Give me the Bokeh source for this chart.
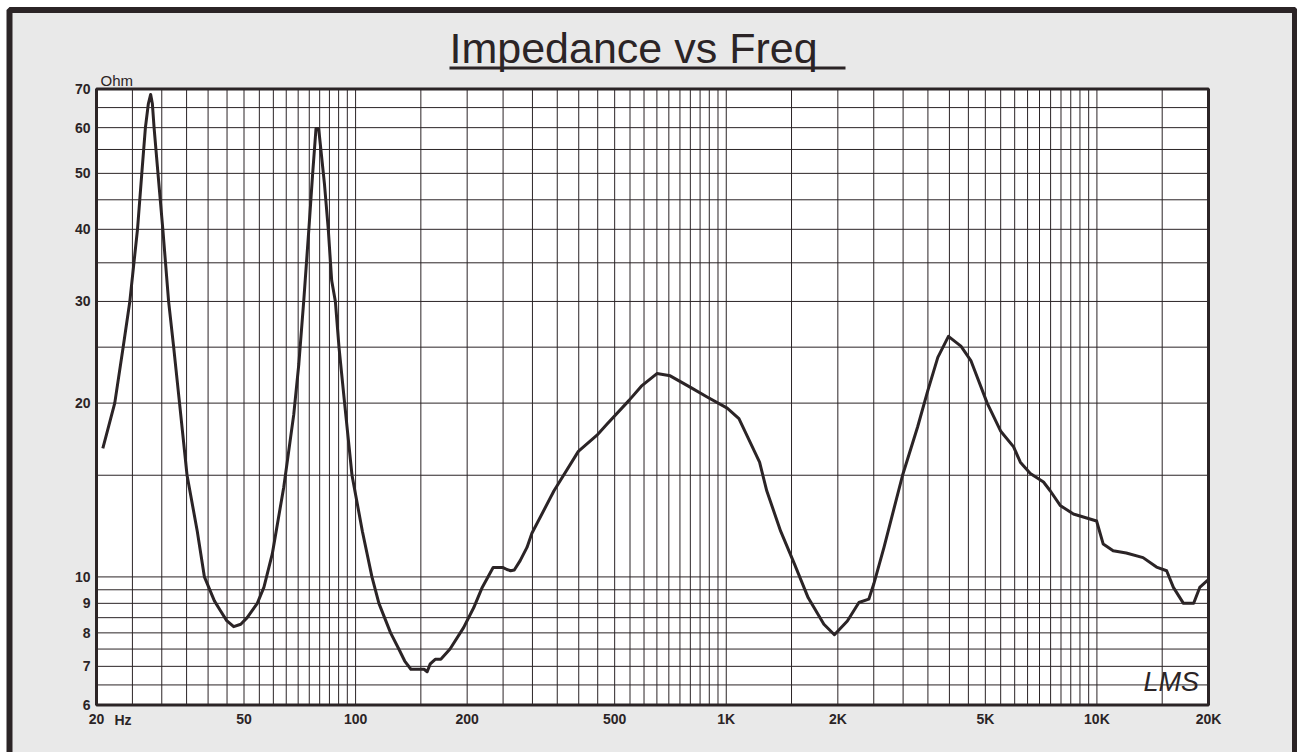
import math
from bokeh.plotting import figure
from bokeh.models import FixedTicker, Label, BoxAnnotation, Range1d
from bokeh.embed import file_html
from bokeh.resources import INLINE

# ---- data ----
freq_hz = [20.8, 21.6, 22.4, 23.6, 24.6, 25.8, 26.5, 27.1, 27.6, 28.0, 28.3, 28.6,
           29.3, 30.2, 31.3, 32.3, 33.5, 35.1, 37.4, 39.1, 41.6, 43.2, 44.9, 46.9,
           49.0, 51.0, 54.3, 56.6, 59.6, 64.0, 68.1, 70.3, 72.5, 74.8, 76.6, 78.2,
           79.5, 80.6, 82.4, 84.4, 86.2, 88.2, 90.2, 93.4, 97.8, 104.3, 110.7, 115.6,
           124.3, 130.8, 135.7, 141, 153, 156, 159, 164, 169.8, 179.8, 195.6, 208.4,
           219.6, 235, 250, 256, 262, 268, 278, 290, 299, 343, 399, 448, 477, 546,
           590, 650, 706, 801, 888, 1006, 1082, 1230, 1286, 1402, 1530, 1664, 1834,
           1958, 2122, 2280, 2424, 2500, 2664, 2990, 3284, 3496, 3722, 3976, 4296,
           4570, 5058, 5496, 5960, 6214, 6612, 7176, 7480, 7960, 8640, 9380, 9980,
           10400, 11060, 12000, 13320, 14480, 15420, 16080, 17120, 18240, 18940,
           19840, 20000]
impedance_ohm = [16.7, 18.3, 20.0, 25.0, 30.0, 40.0, 50.0, 60.0, 66.0, 68.5, 66.0, 60.0,
                 50.0, 40.0, 30.0, 25.0, 20.0, 15.0, 12.0, 10.0, 9.09, 8.74, 8.4, 8.2,
                 8.28, 8.5, 9.0, 9.6, 10.96, 14.3, 19.1, 23.4, 30.2, 40.0, 50.0, 59.8,
                 59.8, 55.0, 48.0, 40.0, 32.6, 30.0, 25.0, 20.0, 15.0, 12.0, 10.0, 9.0,
                 8.0, 7.5, 7.15, 6.92, 6.92, 6.85, 7.07, 7.2, 7.2, 7.5, 8.17, 8.85,
                 9.59, 10.38, 10.38, 10.3, 10.25, 10.28, 10.67, 11.25, 11.9, 14.1, 16.5,
                 17.6, 18.4, 20.2, 21.4, 22.5, 22.3, 21.3, 20.5, 19.6, 18.8, 15.8, 14.1,
                 12.0, 10.5, 9.2, 8.28, 7.94, 8.39, 9.03, 9.15, 9.72, 11.25, 15.0, 18.2,
                 21.0, 24.0, 26.1, 25.1, 23.7, 20.0, 17.9, 16.8, 15.8, 15.1, 14.6, 14.1,
                 13.3, 12.85, 12.65, 12.5, 11.4, 11.1, 11.0, 10.8, 10.4, 10.25, 9.59, 9.0,
                 9.0, 9.59, 9.85, 9.9]

x_tick_values = [20, 50, 100, 200, 500, 1000, 2000, 5000, 10000, 20000]
x_tick_labels = ["20", "50", "100", "200", "500", "1K", "2K", "5K", "10K", "20K"]
y_tick_values = [6, 7, 8, 9, 10, 20, 30, 40, 50, 60, 70]

x_grid_hz = ([f for f in range(25, 100, 5)] + [f for f in range(100, 1000, 50)]
             + [f for f in range(1000, 10000, 500)] + [10000, 15000])
y_grid_ohm = [6.5, 7, 7.5, 8, 8.5, 9, 9.5, 10, 15, 20, 25, 30, 35, 40, 45, 50, 55, 60, 65]

X_MIN, X_MAX = 20, 20000
Y_MIN, Y_MAX = 6, 70

INK = "#2b2426"
BG = "#e9e9e9"

# ---- layout: the frame covers the whole canvas, chart box placed inside ----
W, H = 1297, 752
CL, CR, CT, CB = 96, 1208, 88.5, 704.5          # chart box in canvas pixels
px_dec_x = (CR - CL) / math.log10(X_MAX / X_MIN)
px_dec_y = (CB - CT) / math.log10(Y_MAX / Y_MIN)
x0 = X_MIN / 10 ** (CL / px_dec_x)
x1 = X_MAX * 10 ** ((W - CR) / px_dec_x)
y0 = Y_MIN / 10 ** ((H - CB) / px_dec_y)
y1 = Y_MAX * 10 ** (CT / px_dec_y)

p = figure(width=W, height=H, x_axis_type="log", y_axis_type="log",
           x_range=Range1d(x0, x1), y_range=Range1d(y0, y1),
           output_backend="svg", toolbar_location=None, min_border=0,
           background_fill_color="white", border_fill_color="white",
           outline_line_color=None)
p.title.visible = False

# sheet (gray with dark border)
p.add_layout(BoxAnnotation(left=9, right=1294.5, top=H - 9.5, bottom=-20,
                           left_units="screen", right_units="screen",
                           top_units="screen", bottom_units="screen",
                           fill_color=BG, fill_alpha=1, line_color=INK, line_alpha=1,
                           line_width=6, level="image"))
# white chart area
p.add_layout(BoxAnnotation(left=X_MIN, right=X_MAX, bottom=Y_MIN, top=Y_MAX,
                           fill_color="white", fill_alpha=1, line_color=None,
                           level="underlay"))

# axes fixed at the chart box edges
p.xaxis.fixed_location = Y_MIN
p.yaxis.fixed_location = X_MIN
for ax in (p.xaxis[0], p.yaxis[0]):
    ax.axis_line_color = None
    ax.major_tick_line_color = None
    ax.minor_tick_line_color = None
    ax.major_tick_out = 0
    ax.major_tick_in = 0
    ax.minor_tick_out = 0
    ax.minor_tick_in = 0
    ax.major_label_text_font = "Liberation Sans"
    ax.major_label_text_font_style = "bold"
    ax.major_label_text_font_size = "14px"
    ax.major_label_text_color = INK
    ax.major_label_standoff = 6

p.xaxis.ticker = FixedTicker(ticks=x_tick_values)
p.xaxis.major_label_overrides = dict(zip(x_tick_values, x_tick_labels))
p.yaxis.ticker = FixedTicker(ticks=y_tick_values)
p.yaxis.major_label_overrides = {v: str(v) for v in y_tick_values}
p.xgrid.visible = False
p.ygrid.visible = False

# grid lines limited to the chart box
p.segment(x0=x_grid_hz, x1=x_grid_hz, y0=[Y_MIN] * len(x_grid_hz), y1=[Y_MAX] * len(x_grid_hz),
          line_color=INK, line_width=1)
p.segment(x0=[X_MIN] * len(y_grid_ohm), x1=[X_MAX] * len(y_grid_ohm), y0=y_grid_ohm, y1=y_grid_ohm,
          line_color=INK, line_width=1)

# impedance curve
p.line(freq_hz, impedance_ohm, line_width=3, line_color=INK, line_join="round")

# chart box outline
p.add_layout(BoxAnnotation(left=X_MIN, right=X_MAX, bottom=Y_MIN, top=Y_MAX,
                           fill_alpha=0, line_color=INK, line_alpha=1, line_width=3))

# texts (baseline offsets compensate the renderer's text placement)
p.add_layout(Label(x=449, y=H - 47.6, x_units="screen", y_units="screen",
                   text="Impedance vs Freq", text_font="Liberation Sans",
                   text_font_size="43px", text_color=INK,
                   text_align="left", text_baseline="alphabetic"))
p.add_layout(BoxAnnotation(left=449, right=845, top=H - 66, bottom=H - 69,
                           left_units="screen", right_units="screen",
                           top_units="screen", bottom_units="screen",
                           fill_color=INK, fill_alpha=1, line_color=None))
p.add_layout(Label(x=100, y=H - 79.5, x_units="screen", y_units="screen",
                   text="Ohm", text_font="Liberation Sans",
                   text_font_size="15px", text_color=INK,
                   text_align="left", text_baseline="alphabetic"))
p.add_layout(Label(x=114, y=H - 719, x_units="screen", y_units="screen",
                   text="Hz", text_font="Liberation Sans", text_font_style="bold",
                   text_font_size="14px", text_color=INK,
                   text_align="left", text_baseline="alphabetic"))
p.add_layout(Label(x=1143, y=H - 681, x_units="screen", y_units="screen",
                   text="LMS", text_font="Liberation Sans", text_font_style="italic",
                   text_font_size="27px", text_color=INK,
                   text_align="left", text_baseline="alphabetic"))

open("out.html", "w").write(file_html(p, INLINE))
